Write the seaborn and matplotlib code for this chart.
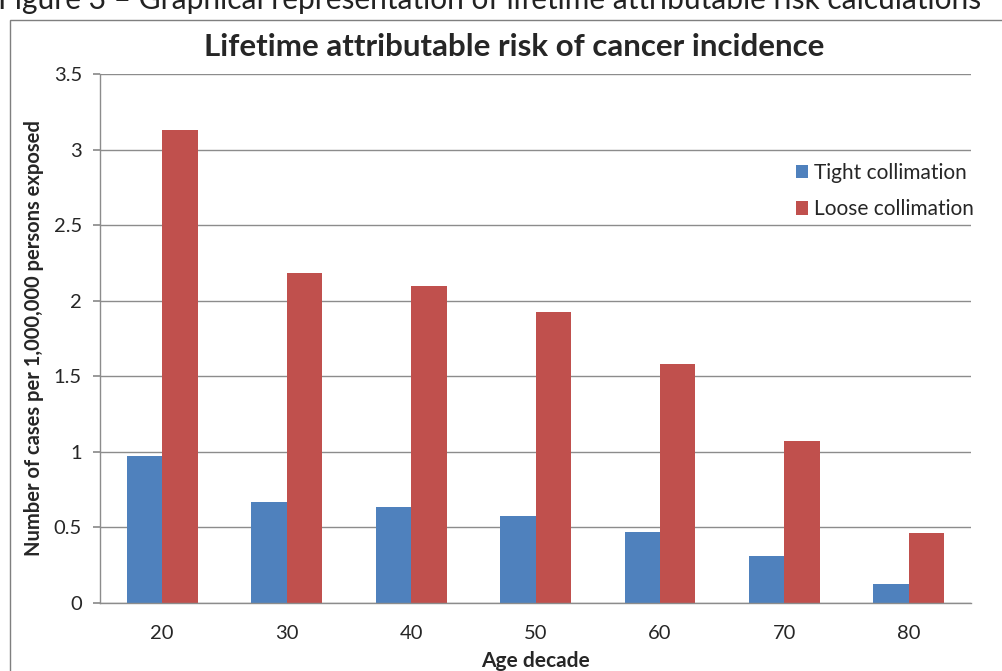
import pandas as pd
import matplotlib
matplotlib.use("Agg")
import matplotlib.pyplot as plt
import seaborn as sns
from matplotlib.patches import Rectangle

# values
ages = ["20", "30", "40", "50", "60", "70", "80"]
tight = [0.97, 0.67, 0.635, 0.575, 0.47, 0.31, 0.125]
loose = [3.13, 2.185, 2.10, 1.925, 1.58, 1.075, 0.46]
series_names = ["Tight collimation", "Loose collimation"]
colors = ["#4F81BD", "#C0504D"]

df = pd.DataFrame({
    "age": ages * 2,
    "value": tight + loose,
    "series": [series_names[0]] * len(ages) + [series_names[1]] * len(ages),
})

sns.set_theme(style="white")
plt.rcParams["font.family"] = ["Lato", "DejaVu Sans"]

fig = plt.figure(figsize=(10.03, 6.71), dpi=100)
ax = fig.add_axes([0.0997, 0.1013, 0.8685, 0.7884])

sns.barplot(data=df, x="age", y="value", hue="series", palette=colors,
            width=0.57, saturation=1, linewidth=0, ax=ax)

ax.set_ylim(0, 3.5)
ax.set_yticks([0, 0.5, 1, 1.5, 2, 2.5, 3, 3.5])
ax.set_yticklabels(["0", "0.5", "1", "1.5", "2", "2.5", "3", "3.5"])
ax.yaxis.grid(True, color="#8c8c8c", linewidth=1)
ax.set_axisbelow(True)
for s in ["top", "right"]:
    ax.spines[s].set_visible(False)
for s in ["left", "bottom"]:
    ax.spines[s].set_color("#8c8c8c")
    ax.spines[s].set_linewidth(1)
ax.tick_params(axis="y", left=True, length=5, color="#8c8c8c", labelsize=14.5, pad=8)
ax.tick_params(axis="x", bottom=False, labelsize=14.5, pad=10)

ax.set_xlabel("Age decade", fontsize=15, fontweight="bold", labelpad=6)
ax.set_ylabel("Number of cases per 1,000,000 persons exposed", fontsize=14.5,
              fontweight="bold", labelpad=7)

ax.legend(frameon=False, fontsize=15, loc="upper left",
          bbox_to_anchor=(0.777, 0.868), handlelength=0.6, handleheight=0.6,
          handletextpad=0.3, labelspacing=0.8)

fig.text(0.513, 0.93, "Lifetime attributable risk of cancer incidence",
         ha="center", va="center", fontsize=22.5, fontweight="bold")

# caption cut off by the top edge, as in the reference
fig.text(-0.002, 0.986, "Figure 3 – Graphical representation of lifetime attributable risk calculations",
         ha="left", va="baseline", fontsize=21.5, color="#222222")

# chart area border
fig.patches.append(Rectangle((0.010, -0.05), 1.1, 1.02, transform=fig.transFigure,
                             fill=False, edgecolor="#7f7f7f", linewidth=1))

fig.savefig("out.png", dpi=100)
